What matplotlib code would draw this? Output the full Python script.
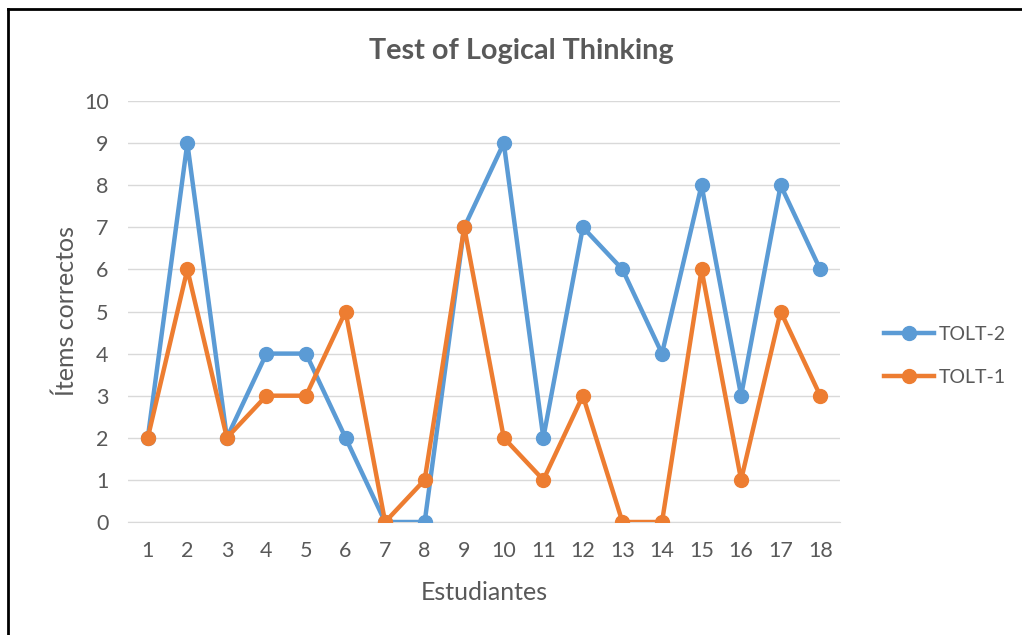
import matplotlib
matplotlib.use("Agg")
import matplotlib.pyplot as plt
from matplotlib.lines import Line2D

students = list(range(1, 19))
tolt2 = [2, 9, 2, 4, 4, 2, 0, 0, 7, 9, 2, 7, 6, 4, 8, 3, 8, 6]
tolt1 = [2, 6, 2, 3, 3, 5, 0, 1, 7, 2, 1, 3, 0, 0, 6, 1, 5, 3]
yticks = list(range(0, 11))

blue = "#5B9BD5"
orange = "#ED7D31"
txt = "#595959"

plt.rcParams['font.family'] = ['Lato', 'DejaVu Sans']

fig = plt.figure(figsize=(10.22, 6.35), dpi=100)
ax = fig.add_axes([128/1022, 1-522/635, (840-128)/1022, (522-101)/635])

ax.plot(students, tolt2, color=blue, lw=3.2, marker='o', ms=10, zorder=3, label='TOLT-2',
        solid_capstyle='round')
ax.plot(students, tolt1, color=orange, lw=3.2, marker='o', ms=10, zorder=4, label='TOLT-1',
        solid_capstyle='round')

ax.set_xlim(0.5, 18.5)
ax.set_ylim(0, 10)
ax.set_yticks(yticks)
ax.set_xticks(students)
ax.set_xticklabels([str(s) for s in students])
ax.grid(axis='y', color='#D9D9D9', lw=1)
ax.set_axisbelow(True)
for s in ax.spines.values():
    s.set_visible(False)
ax.spines['bottom'].set_visible(True)
ax.spines['bottom'].set_color('#D9D9D9')
ax.tick_params(axis='both', length=0, labelsize=15.5, labelcolor=txt)
ax.tick_params(axis='y', pad=14)
ax.tick_params(axis='x', pad=14)

ax.set_xlabel('Estudiantes', fontsize=18, color=txt, labelpad=14)
ax.set_ylabel('Ítems correctos', fontsize=18, color=txt, labelpad=4)
fig.text(521/1022, 1-51/635, 'Test of Logical Thinking', fontsize=20.7, fontweight='bold',
         color=txt, ha='center', va='center')

handles = [Line2D([], [], color=blue, lw=3.2, marker='o', ms=10),
           Line2D([], [], color=orange, lw=3.2, marker='o', ms=10)]
fig.legend(handles, ['TOLT-2', 'TOLT-1'], loc='center left',
           bbox_to_anchor=(866/1022, 1-356/635), frameon=False, fontsize=14,
           labelcolor=txt, handlelength=2.6, labelspacing=1.35, handletextpad=0.25)

# outer border (top and left visible)
fig.add_artist(Line2D([8/1022, 8/1022], [0, 1-9/635], color='black', lw=2, transform=fig.transFigure))
fig.add_artist(Line2D([8/1022, 1], [1-9/635, 1-9/635], color='black', lw=2, transform=fig.transFigure))

fig.savefig('out.png', dpi=100)
